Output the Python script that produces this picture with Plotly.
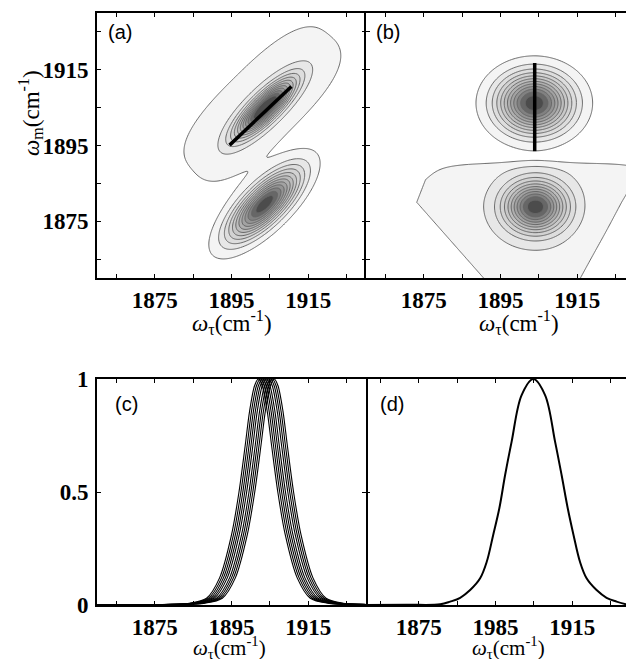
import numpy as np
import plotly.graph_objects as go

W, H = 626, 659

# ---------------- data ----------------
# panel (a): two correlated peaks (amplitude, centre, widths along / across the diagonal)
a_amp = [1.0, 1.0]
a_x0 = [1903.8, 1903.6]
a_y0 = [1905.0, 1879.5]
a_su = [6.8, 7.8]
a_sv = [2.1, 3.0]
a_ang = [45, 45]
# panel (a): flat low plateau around the upper peak (amplitude, centre, half-sizes)
a_ped = [0.1, 1903.0, 1906.0, 25.0, 10.0]

# panel (b): round peaks
b_amp = [1.0, 0.9]
b_x0 = [1903.8, 1904.1]
b_y0 = [1906.2, 1878.8]
b_sx = [6.2, 5.2]
b_sy = [5.1, 4.4]
# panel (b): broad plateau under the lower peak, edges
b_ped_amp = 0.1
b_ped_edge_y = [1860, 1880, 1886, 1891]
b_ped_left_x = [1890.6, 1873.2, 1875.5, 1881.0]
b_ped_right_x = [1915.8, 1926.5, 1930.0, 1933.0]
b_ped_top = [1880.0, 10.3]

# black guide lines
a_line_x = [1894.5, 1910.6]
a_line_y = [1895.1, 1910.6]
b_line_x = [1903.9, 1903.9]
b_line_y = [1893.5, 1916.8]

c_offset = [-45, -25, -18, -13.5, -10.1, -7.0, -5.05, -3.4, -2.3, -1.0, 0,
            1.0, 2.3, 3.4, 5.05, 7.0, 10.1, 13.5, 18, 25, 45]
c_value = [0, 0.002, 0.008, 0.03, 0.12, 0.31, 0.5, 0.71, 0.857, 0.97, 1.0,
           0.97, 0.857, 0.71, 0.5, 0.31, 0.12, 0.03, 0.008, 0.002, 0]
c_centers = [1902.0, 1902.5, 1903.0, 1903.5, 1904.0, 1904.6, 1905.1, 1905.6, 1906.1]

# panel (d)
d_x = [1861.3, 1872.0, 1880.6, 1883.2, 1885.8, 1888.4, 1891.0, 1892.7, 1894.4, 1896.0,
       1897.5, 1899.2, 1901.8, 1904.85, 1907.9, 1910.5, 1912.2, 1913.8, 1915.3,
       1917.0, 1918.7, 1921.3, 1923.9, 1926.5, 1929.0]
d_y = [0.0, 0.001, 0.003, 0.015, 0.032, 0.066, 0.118, 0.19, 0.31, 0.428,
       0.575, 0.723, 0.929, 1.0, 0.929, 0.723, 0.575, 0.428, 0.31,
       0.19, 0.118, 0.066, 0.032, 0.015, 0.003]

# axes
xy_ticks = [1865, 1875, 1885, 1895, 1905, 1915, 1925]
xy_text = ['', '1875', '', '1895', '', '1915', '']
d_text = ['', '1875', '', '1985', '', '1915', '']
c_yticks = [0, 0.5, 1]
c_ytext = ['0', '0.5', '1']

# ---------------- fields ----------------
g = np.arange(1860, 1930.01, 0.25)
X, Y = np.meshgrid(g, g)
c45 = np.cos(np.radians(45))

za = np.zeros_like(X)
for A, x0, y0, su, sv, ang in zip(a_amp, a_x0, a_y0, a_su, a_sv, a_ang):
    th = np.radians(ang)
    dx, dy = X - x0, Y - y0
    u = dx * np.cos(th) + dy * np.sin(th)
    v = -dx * np.sin(th) + dy * np.cos(th)
    za += A * np.exp(-0.5 * (u / su) ** 2 - 0.5 * (v / sv) ** 2)
pA, px0, py0, pwu, pwv = a_ped
du, dv = X - px0, Y - py0
u = (du + dv) * c45
v = (dv - du) * c45
za += pA * np.exp(-np.log(2) * (np.abs(u / pwu) ** 2.6 + np.abs(v / pwv) ** 3))

zb = np.zeros_like(X)
for A, x0, y0, sx, sy in zip(b_amp, b_x0, b_y0, b_sx, b_sy):
    zb += A * np.exp(-0.5 * ((X - x0) / sx) ** 2 - 0.5 * ((Y - y0) / sy) ** 2)
left = np.interp(Y, b_ped_edge_y, b_ped_left_x)
right = np.interp(Y, b_ped_edge_y, b_ped_right_x)
cen = 0.5 * (left + right)
hw = 0.5 * (right - left)
fx = np.exp(-np.log(2) * ((X - cen) / hw) ** 4)
over = np.clip(Y - b_ped_top[0], 0, None)
fy = np.exp(-np.log(2) * (over / b_ped_top[1]) ** 12)
zb += b_ped_amp * fx * fy

# ---------------- figure ----------------
def px_x(p):
    return p / W

def px_y(p):
    return 1 - p / H

dom_x1 = [px_x(97), px_x(366)]
dom_x2 = [px_x(366), 1.0]
dom_y1 = [px_y(278), px_y(13)]
dom_y2 = [px_y(605), px_y(379)]

fig = go.Figure()

gray_scale = [[0, '#ffffff'], [0.055, '#ffffff'], [0.09, '#f1f1f1'],
              [0.5, '#bdbdbd'], [0.8, '#8c8c8c'], [1.0, '#4c4c4c']]
contour_kw = dict(
    x=g, y=g, zmin=0, zmax=1, colorscale=gray_scale, showscale=False,
    contours=dict(start=0.05, end=0.93, size=0.08, coloring='fill'),
    line=dict(color='#666666', width=1), hoverinfo='skip',
)
fig.add_trace(go.Contour(z=za, xaxis='x', yaxis='y', **contour_kw))
fig.add_trace(go.Contour(z=zb, xaxis='x2', yaxis='y2', **contour_kw))

fig.add_trace(go.Scatter(x=a_line_x, y=a_line_y, mode='lines', xaxis='x', yaxis='y',
                         line=dict(color='black', width=3.5), showlegend=False))
fig.add_trace(go.Scatter(x=b_line_x, y=b_line_y, mode='lines', xaxis='x2', yaxis='y2',
                         line=dict(color='black', width=3.5), showlegend=False))

for c in c_centers:
    fig.add_trace(go.Scatter(x=[c + o for o in c_offset], y=c_value, mode='lines',
                             xaxis='x3', yaxis='y3', line=dict(color='black', width=1.1,
                             shape='spline', smoothing=0.8), showlegend=False))
fig.add_trace(go.Scatter(x=d_x, y=d_y, mode='lines', xaxis='x4', yaxis='y4',
                         line=dict(color='black', width=2, shape='spline', smoothing=1.0),
                         showlegend=False))

tickfont = dict(family='Liberation Serif, serif', size=23, color='black', weight='bold')
base_ax = dict(showgrid=False, zeroline=False, showline=True, linecolor='black',
               linewidth=2, ticks='inside', ticklen=4, tickwidth=1, tickcolor='black',
               tickfont=tickfont, automargin=False)
side_ax = dict(base_ax, showline=False)

fig.update_layout(
    width=W, height=H, margin=dict(l=0, r=0, t=0, b=0, pad=0, autoexpand=False),
    paper_bgcolor='white', plot_bgcolor='white', showlegend=False,
    xaxis=dict(domain=dom_x1, range=[1860, 1930], anchor='y', tickvals=xy_ticks,
               ticktext=xy_text, mirror='allticks', ticklabelstandoff=0, **base_ax),
    yaxis=dict(domain=dom_y1, range=[1860, 1930], anchor='x', tickvals=xy_ticks,
               ticktext=xy_text, mirror='allticks', ticklabelstandoff=2, **base_ax),
    xaxis2=dict(domain=dom_x2, range=[1860, 1927.66], anchor='y2', tickvals=xy_ticks,
                ticktext=xy_text, mirror='allticks', ticklabelstandoff=0, **base_ax),
    yaxis2=dict(domain=dom_y1, range=[1860, 1930], anchor='x2', tickvals=xy_ticks,
                showticklabels=False, mirror=False, **base_ax),
    xaxis3=dict(domain=dom_x1, range=[1860, 1930], anchor='y3', tickvals=xy_ticks,
                ticktext=xy_text, mirror='allticks', ticklabelstandoff=0, **base_ax),
    yaxis3=dict(domain=dom_y2, range=[0, 1], anchor='x3', tickvals=c_yticks,
                ticktext=c_ytext, mirror='allticks', ticklabelstandoff=2, **base_ax),
    xaxis4=dict(domain=dom_x2, range=[1861.3, 1928.96], anchor='y4', tickvals=xy_ticks,
                ticktext=d_text, mirror='allticks', ticklabelstandoff=0, **base_ax),
    yaxis4=dict(domain=dom_y2, range=[0, 1], anchor='x4', tickvals=c_yticks,
                showticklabels=False, mirror=False, **side_ax),
)

title_font = dict(family='Liberation Serif, serif', size=23, color='black')
bottom_font = dict(family='Liberation Serif, serif', size=21, color='black')
xt = '<i>ω</i><sub>τ</sub>(cm<sup>-1</sup>)'
yt = '<i>ω</i><sub>m</sub>(cm<sup>-1</sup>)'
for xx, yy, f in [(232, 322, title_font), (519, 322, title_font),
                  (229, 647, bottom_font), (508, 647, bottom_font)]:
    fig.add_annotation(text=xt, xref='paper', yref='paper', x=px_x(xx), y=px_y(yy),
                       showarrow=False, font=f, xanchor='center', yanchor='middle')
fig.add_annotation(text=yt, xref='paper', yref='paper', x=px_x(30), y=px_y(113),
                   textangle=-90, showarrow=False, font=title_font,
                   xanchor='center', yanchor='middle')

lab_font = dict(family='Liberation Sans, sans-serif', size=20, color='black')
for t, xx, yy in [('(a)', 120, 32), ('(b)', 388, 32), ('(c)', 126, 404), ('(d)', 392, 404)]:
    fig.add_annotation(text=t, xref='paper', yref='paper', x=px_x(xx), y=px_y(yy),
                       showarrow=False, font=lab_font, xanchor='center', yanchor='middle')

fig.write_html('out.html', config={'displayModeBar': False},
               post_script="document.body.style.margin='0';"
                           "document.body.style.overflow='hidden';")
